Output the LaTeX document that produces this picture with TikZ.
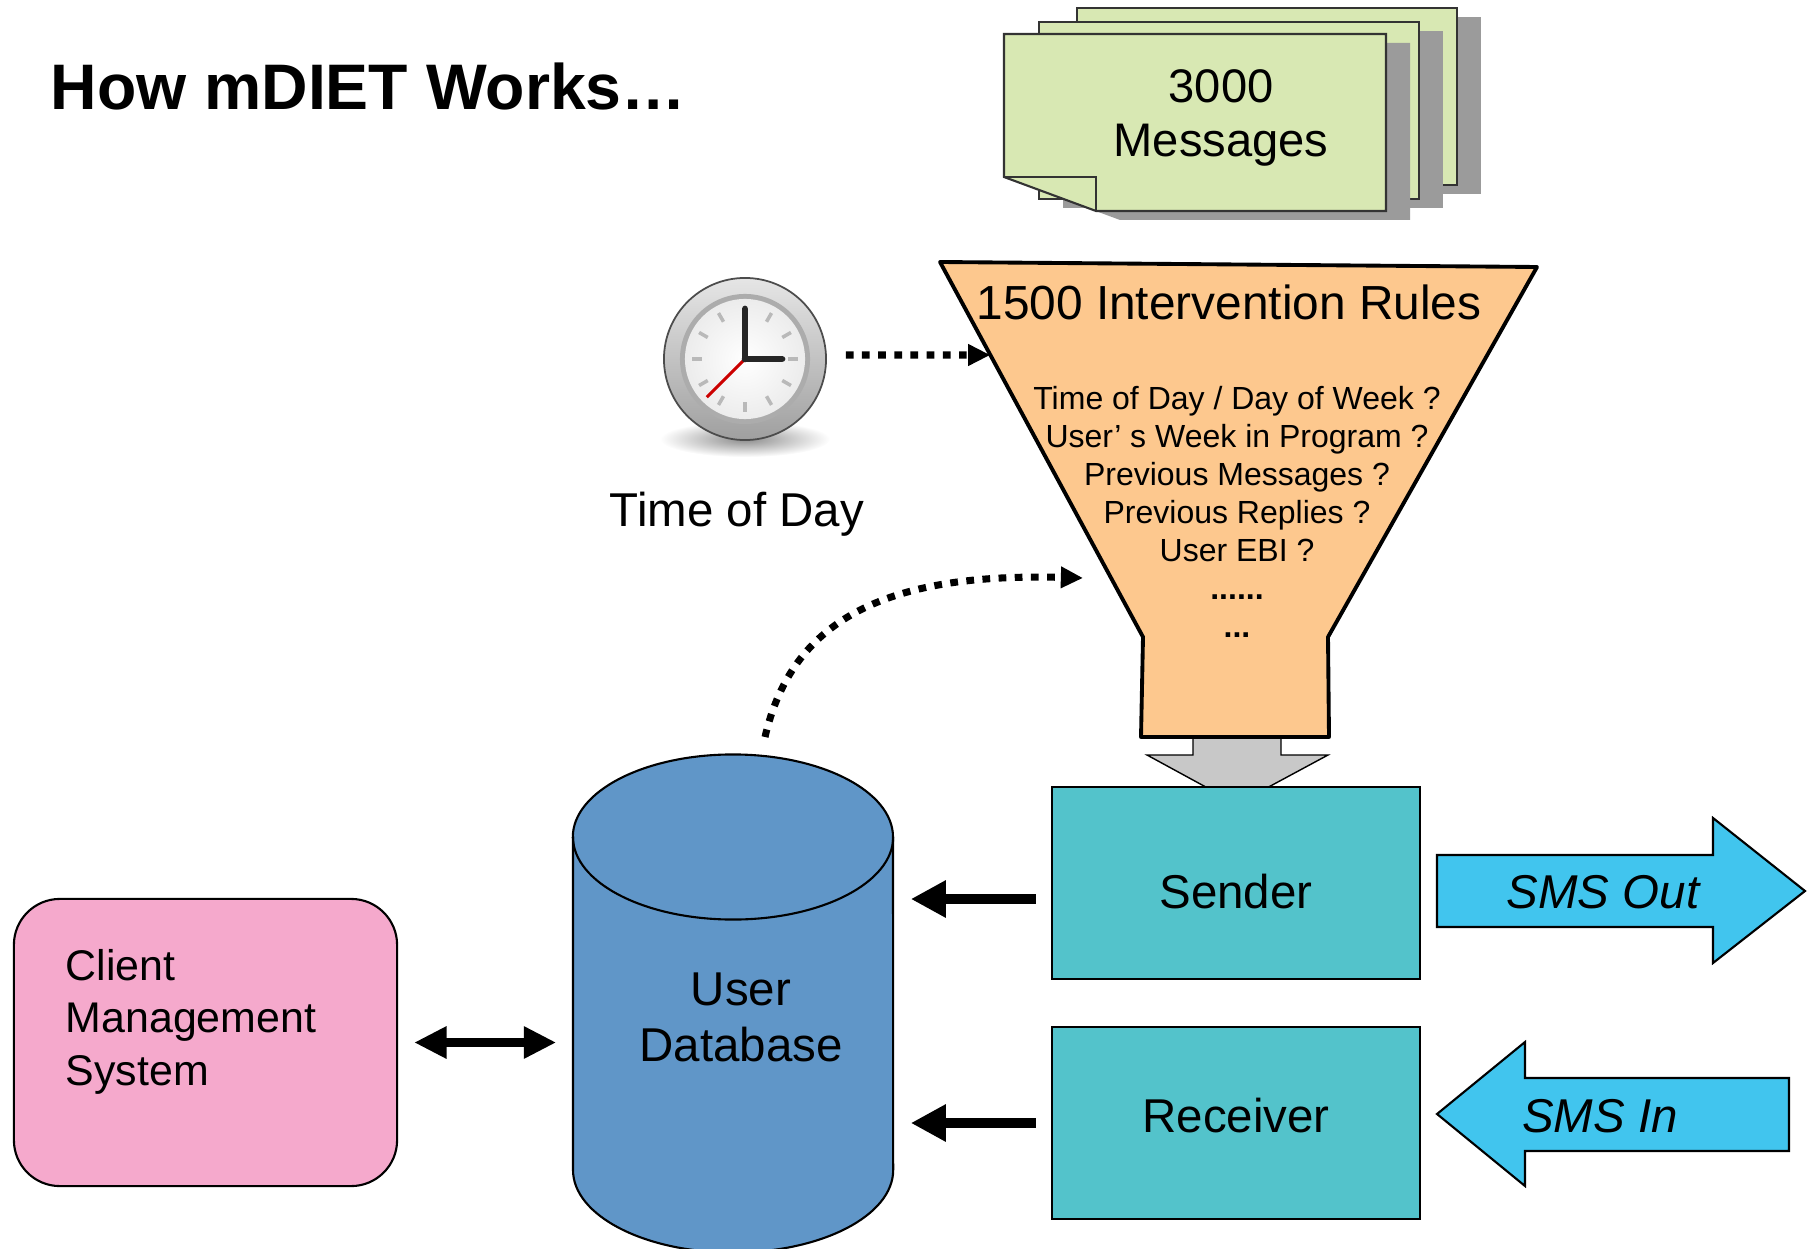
\documentclass[tikz,border=0pt]{standalone}
\usepackage{fontspec}
\setmainfont{Liberation Sans}
\usepackage{tikz}
\usetikzlibrary{arrows.meta, calc}

\definecolor{sheetgreen}{RGB}{216,232,179}
\definecolor{sheetshadow}{RGB}{155,155,155}
\definecolor{funnelorange}{RGB}{253,200,142}
\definecolor{boxteal}{RGB}{83,195,203}
\definecolor{smsblue}{RGB}{65,197,238}
\definecolor{dbblue}{RGB}{96,150,200}
\definecolor{cmspink}{RGB}{245,169,204}
\definecolor{pipegray}{RGB}{200,200,200}

\newcommand{\fsize}[2]{\fontsize{#1}{#2}\selectfont}

\tikzset{
  sheet/.style={fill=sheetgreen, draw=black!80, line width=0.6pt},
  station/.style={draw, line width=0.6pt, fill=boxteal, minimum width=3.68cm,
    minimum height=1.92cm, font=\fsize{13.5}{16}, text depth=0pt},
  smsarrow/.style={fill=smsblue, draw, line width=0.6pt},
  dotarrow/.style={line width=2pt, dash pattern=on 2.2pt off 2.4pt,
    -{Triangle[length=6.3pt, width=5.8pt]}},
  fatarrow/.style={line width=2.8pt, -{Triangle[length=10pt, width=10pt]}},
  bothway/.style={line width=2.3pt,
    {Triangle[length=9.2pt, width=8.6pt]}-{Triangle[length=9.2pt, width=8.6pt]}},
}
\def\scale{1}

\begin{document}
\begin{tikzpicture}[scale=\scale, x=0.01cm, y=-0.01cm]
  \useasboundingbox (0,0) rectangle (1815,1249);

  % title
  \node[anchor=base west, inner sep=0pt, font=\bfseries\fsize{18.3}{22}] (title) at (50,110) {How mDIET Works…};

  % stack of message sheets, back to front
  \foreach \dx/\dy in {73/-26, 35/-12} {
    \fill[sheetshadow] (1028+\dx,43+\dy) rectangle +(380,177);
    \filldraw[sheet] (1004+\dx,34+\dy) rectangle +(380,177);
  }
  \fill[sheetshadow] (1028,43) -- (1410,43) -- (1410,220) -- (1120,220) -- (1028,186) -- cycle;
  \filldraw[sheet] (1004,34) -- (1386,34) -- (1386,211) -- (1096,211) -- (1004,177) -- cycle;
  \draw[black!80, line width=0.6pt] (1004,177) -- (1096,177) -- (1096,211);
  % multi-line nodes sit on the baseline of their last line
  \node[anchor=base, align=center, font=\fsize{13.4}{15.6}] (msgs) at (1221,157) {3000\\Messages};

  % clock
  \node[circle, minimum size=1.62cm, inner sep=0pt] (clock) at (745,359) {};
  \shade[inner color=gray!90, outer color=white] ([yshift=-0.8cm]clock.center) ellipse[x radius=0.85cm, y radius=0.18cm];
  \shade[top color=gray!20, bottom color=gray!75] (clock.center) circle[radius=0.81cm];
  \draw[gray!60!black, line width=0.5pt] (clock.center) circle[radius=0.81cm];
  \fill[gray!65] (clock.center) circle[radius=0.65cm];
  \shade[inner color=white, outer color=gray!15] (clock.center) circle[radius=0.6cm];
  \foreach \a in {0,30,...,330}
    \draw[gray!55, line width=1pt] ($(clock.center)+(\a:0.43cm)$) -- ($(clock.center)+(\a:0.53cm)$);
  \draw[red!80!black, line width=0.9pt] (clock.center) -- +(225:0.54cm);
  \draw[black!85, line width=1.9pt, line cap=round] (clock.center) -- +(90:0.5cm);
  \draw[black!85, line width=1.9pt, line cap=round] (clock.center) -- +(0:0.37cm);
  \node[anchor=base, font=\fsize{13.5}{16}] (tod) at (737,527) {Time of Day};

  % pipe from the funnel down to the sender
  \filldraw[fill=pipegray, line width=0.4pt] (1193,730) -- (1193,755) -- (1147,755) -- (1237,804)
    -- (1328,755) -- (1281,755) -- (1281,730);

  % rule funnel
  \coordinate (fTL) at (940,262);
  \coordinate (fTR) at (1537,267);
  \coordinate (fML) at (1143,637);
  \coordinate (fMR) at (1328,637);
  \coordinate (fBL) at (1141,737);
  \coordinate (fBR) at (1329,737);
  \filldraw[fill=funnelorange, line width=1.1pt, line join=round]
    (fTL) -- (fTR) -- (fMR) -- (fBR) -- (fBL) -- (fML) -- cycle;
  \node[anchor=base, font=\fsize{13.6}{16}] (rulehead) at (1229,320) {1500 Intervention Rules};
  \node[anchor=base, align=center, font=\fsize{9.1}{10.8}] (rules) at (1237,637)
    {Time of Day / Day of Week ?\\User’ s Week in Program ?\\Previous Messages ?\\
     Previous Replies ?\\User EBI ?\\\textbf{......}\\\textbf{...}};

  % sender and receiver
  \node[station, text height=0.5cm] (sender) at (1236,883) {Sender};
  \node[station, text height=0.18cm] (receiver) at (1236,1123) {Receiver};

  % sms traffic
  \filldraw[smsarrow] (1437,855) -- (1713,855) -- (1713,818) -- (1805,891) -- (1713,963)
    -- (1713,927) -- (1437,927) -- cycle;
  \node[anchor=base, font=\itshape\fsize{13.5}{16}] (smsout) at (1603,908) {SMS Out};
  \filldraw[smsarrow] (1789,1078) -- (1525,1078) -- (1525,1042) -- (1437,1114) -- (1525,1186)
    -- (1525,1151) -- (1789,1151) -- cycle;
  \node[anchor=base, font=\itshape\fsize{13.5}{16}] (smsin) at (1600,1132) {SMS In};

  % user database cylinder
  \filldraw[fill=dbblue, line width=0.6pt] (573,837) -- (573,1170)
    arc[start angle=180, end angle=360, x radius=1.6cm, y radius=0.825cm] -- (893,837)
    arc[start angle=0, end angle=180, x radius=1.6cm, y radius=0.825cm] -- cycle;
  \draw[line width=0.6pt] (573,837) arc[start angle=180, end angle=360, x radius=1.6cm, y radius=0.825cm];
  \coordinate (dbtop) at (733,755);
  \node[anchor=base, align=center, font=\fsize{13.5}{15.9}, minimum width=3.2cm, inner sep=0pt]
    (db) at (741,1061) {User\\Database};

  % client management system
  \node[draw, fill=cmspink, line width=0.6pt, rounded corners=0.46cm, minimum width=3.83cm,
    minimum height=2.87cm] (cms) at (205.5,1042.5) {};
  \node[anchor=base west, align=left, inner sep=0pt, font=\fsize{12.2}{14.8}] (cmstext) at (65,1085)
    {Client\\Management\\System};

  % connectors
  \coordinate (sendout) at ([yshift=-0.16cm]sender.west);
  \draw[fatarrow, shorten <=0.15cm, shorten >=0.09cm] (sendout) -- (sendout -| db.east);
  \draw[fatarrow, shorten <=0.15cm, shorten >=0.09cm] (receiver.west) -- (receiver.west -| db.east);
  \draw[bothway, shorten <=0.16cm, shorten >=0.24cm] (cms.east) -- (cms.east -| db.west);
  \draw[dotarrow, shorten <=0.19cm] ([yshift=0.04cm]clock.east) -- ($(fTL)!0.248!(fML)$);
  \coordinate (rulein) at (1083,578);
  \draw[dotarrow] ([shift={(32,-18)}]dbtop) .. controls (790,630) and (870,572) .. (rulein);
\end{tikzpicture}
\end{document}
